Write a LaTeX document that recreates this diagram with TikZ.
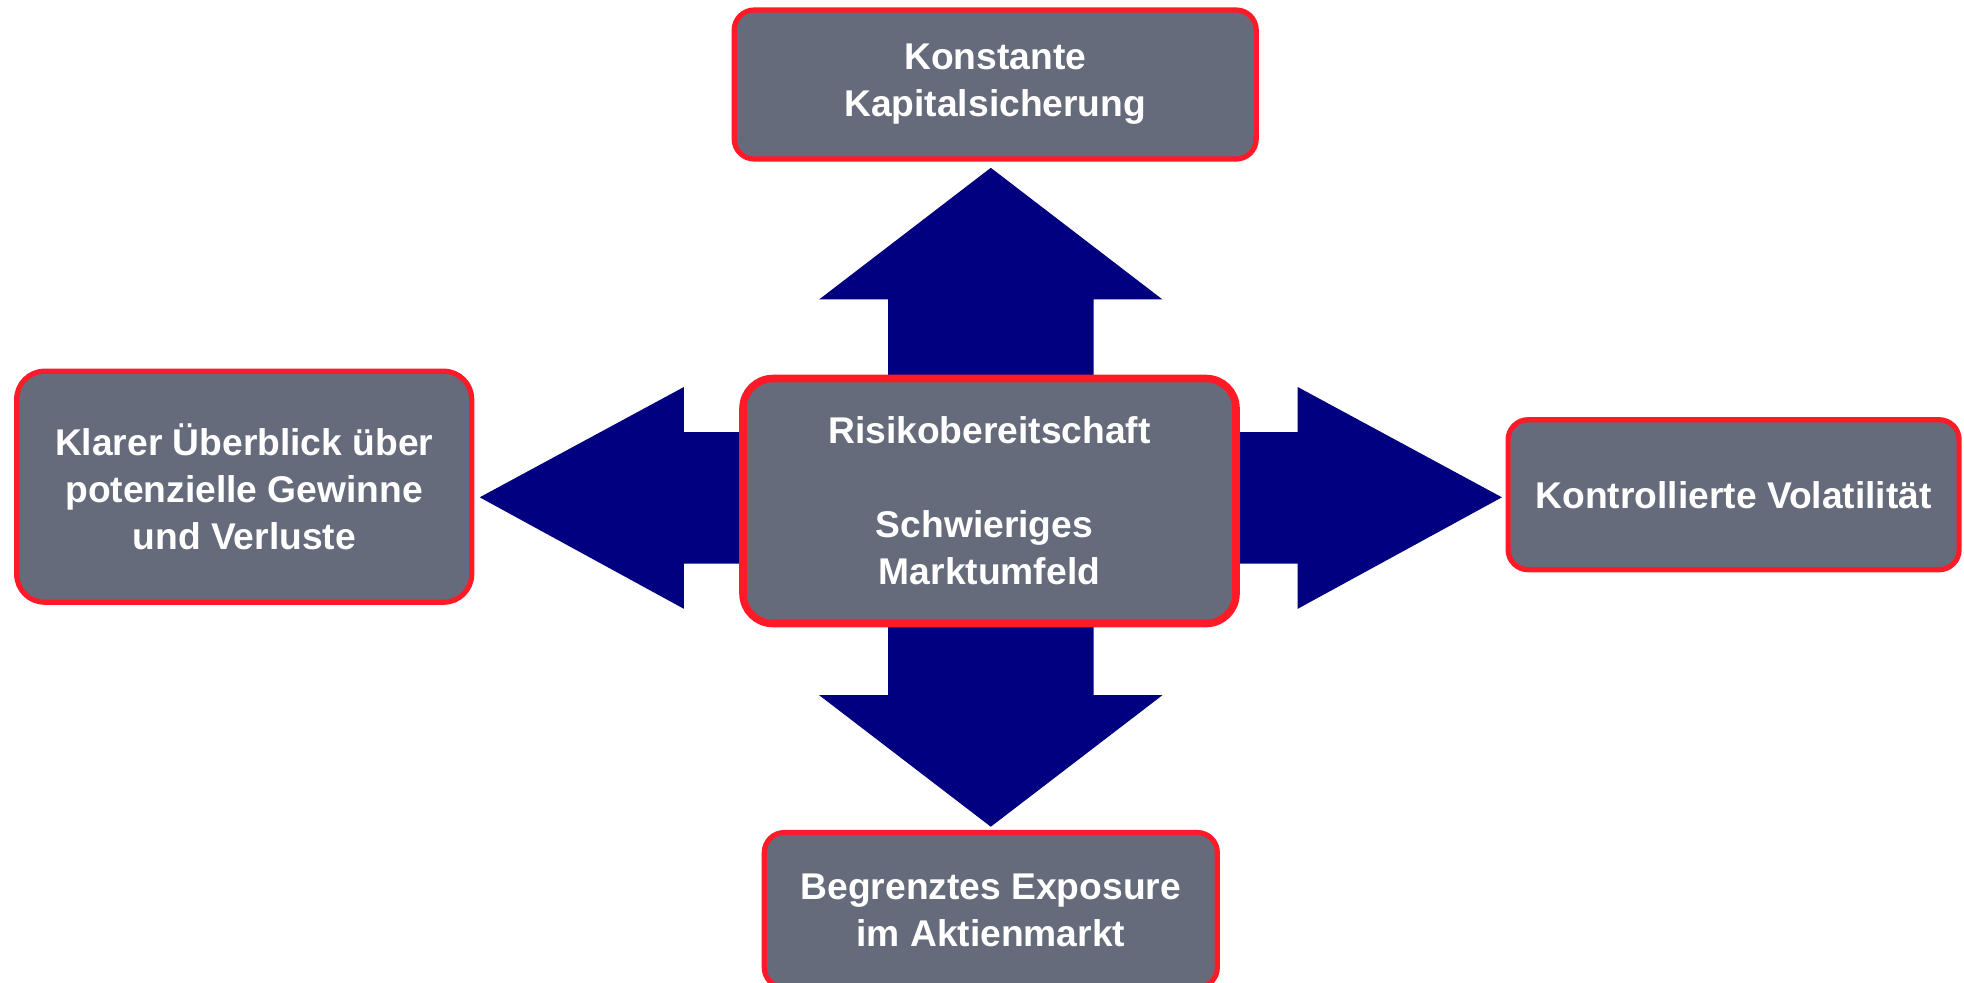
\documentclass[tikz,border=0pt]{standalone}
\usepackage{fontspec}
\setmainfont{Liberation Sans}
\definecolor{boxfill}{HTML}{656B7B}
\definecolor{boxline}{HTML}{FF1A27}
\definecolor{arrownavy}{HTML}{000080}
\begin{document}
\begin{tikzpicture}[x=0.5pt,y=-0.5pt,
  box/.style={draw=boxline, fill=boxfill, line width=2.6pt, rounded corners=10pt,
    text=white, align=center, inner sep=0pt,
    font=\bfseries\fontsize{18.6}{23.5}\selectfont},
  bigarrow/.style={fill=arrownavy, draw=none}]
\useasboundingbox (0,0) rectangle (1964,982);
\clip (0,0) rectangle (1964,982);
% arrows
\fill[bigarrow] (888.1,420) -- (888.1,299.4) -- (819.2,299.4) -- (990.8,167.8) -- (1162.4,299.4) -- (1093.5,299.4) -- (1093.5,420) -- cycle;
\fill[bigarrow] (888.1,580) -- (888.1,695.2) -- (819.2,695.2) -- (990.8,826.7) -- (1162.4,695.2) -- (1093.5,695.2) -- (1093.5,580) -- cycle;
\fill[bigarrow] (800,432.1) -- (683.9,432.1) -- (683.9,387) -- (479.7,497.3) -- (683.9,608.8) -- (683.9,563.7) -- (800,563.7) -- cycle;
\fill[bigarrow] (1180,432.1) -- (1297.7,432.1) -- (1297.7,387) -- (1501.9,497.3) -- (1297.7,608.8) -- (1297.7,563.7) -- (1180,563.7) -- cycle;
% boxes
\node[box, minimum width=261pt, minimum height=74.5pt] (top) at (995.2,84.5) {Konstante\\Kapitalsicherung};
\node[box, line width=3.8pt, rounded corners=15pt, minimum width=246.5pt, minimum height=122.5pt] (mid) at (989.5,501) {Risikobereitschaft\\[23.5pt]Schwieriges\kern5pt\relax\\Marktumfeld};
\node[box, rounded corners=14pt, minimum width=227.5pt, minimum height=115.5pt] (left) at (244.2,486.7) {Klarer Überblick über\\potenzielle Gewinne\\und Verluste};
\node[box, minimum width=225.5pt, minimum height=75pt] (right) at (1733.6,494.7) {Kontrollierte Volatilität};
\node[box, minimum width=226.5pt, minimum height=77.5pt] (bottom) at (990.8,910) {Begrenztes Exposure\\im Aktienmarkt};
\end{tikzpicture}
\end{document}
